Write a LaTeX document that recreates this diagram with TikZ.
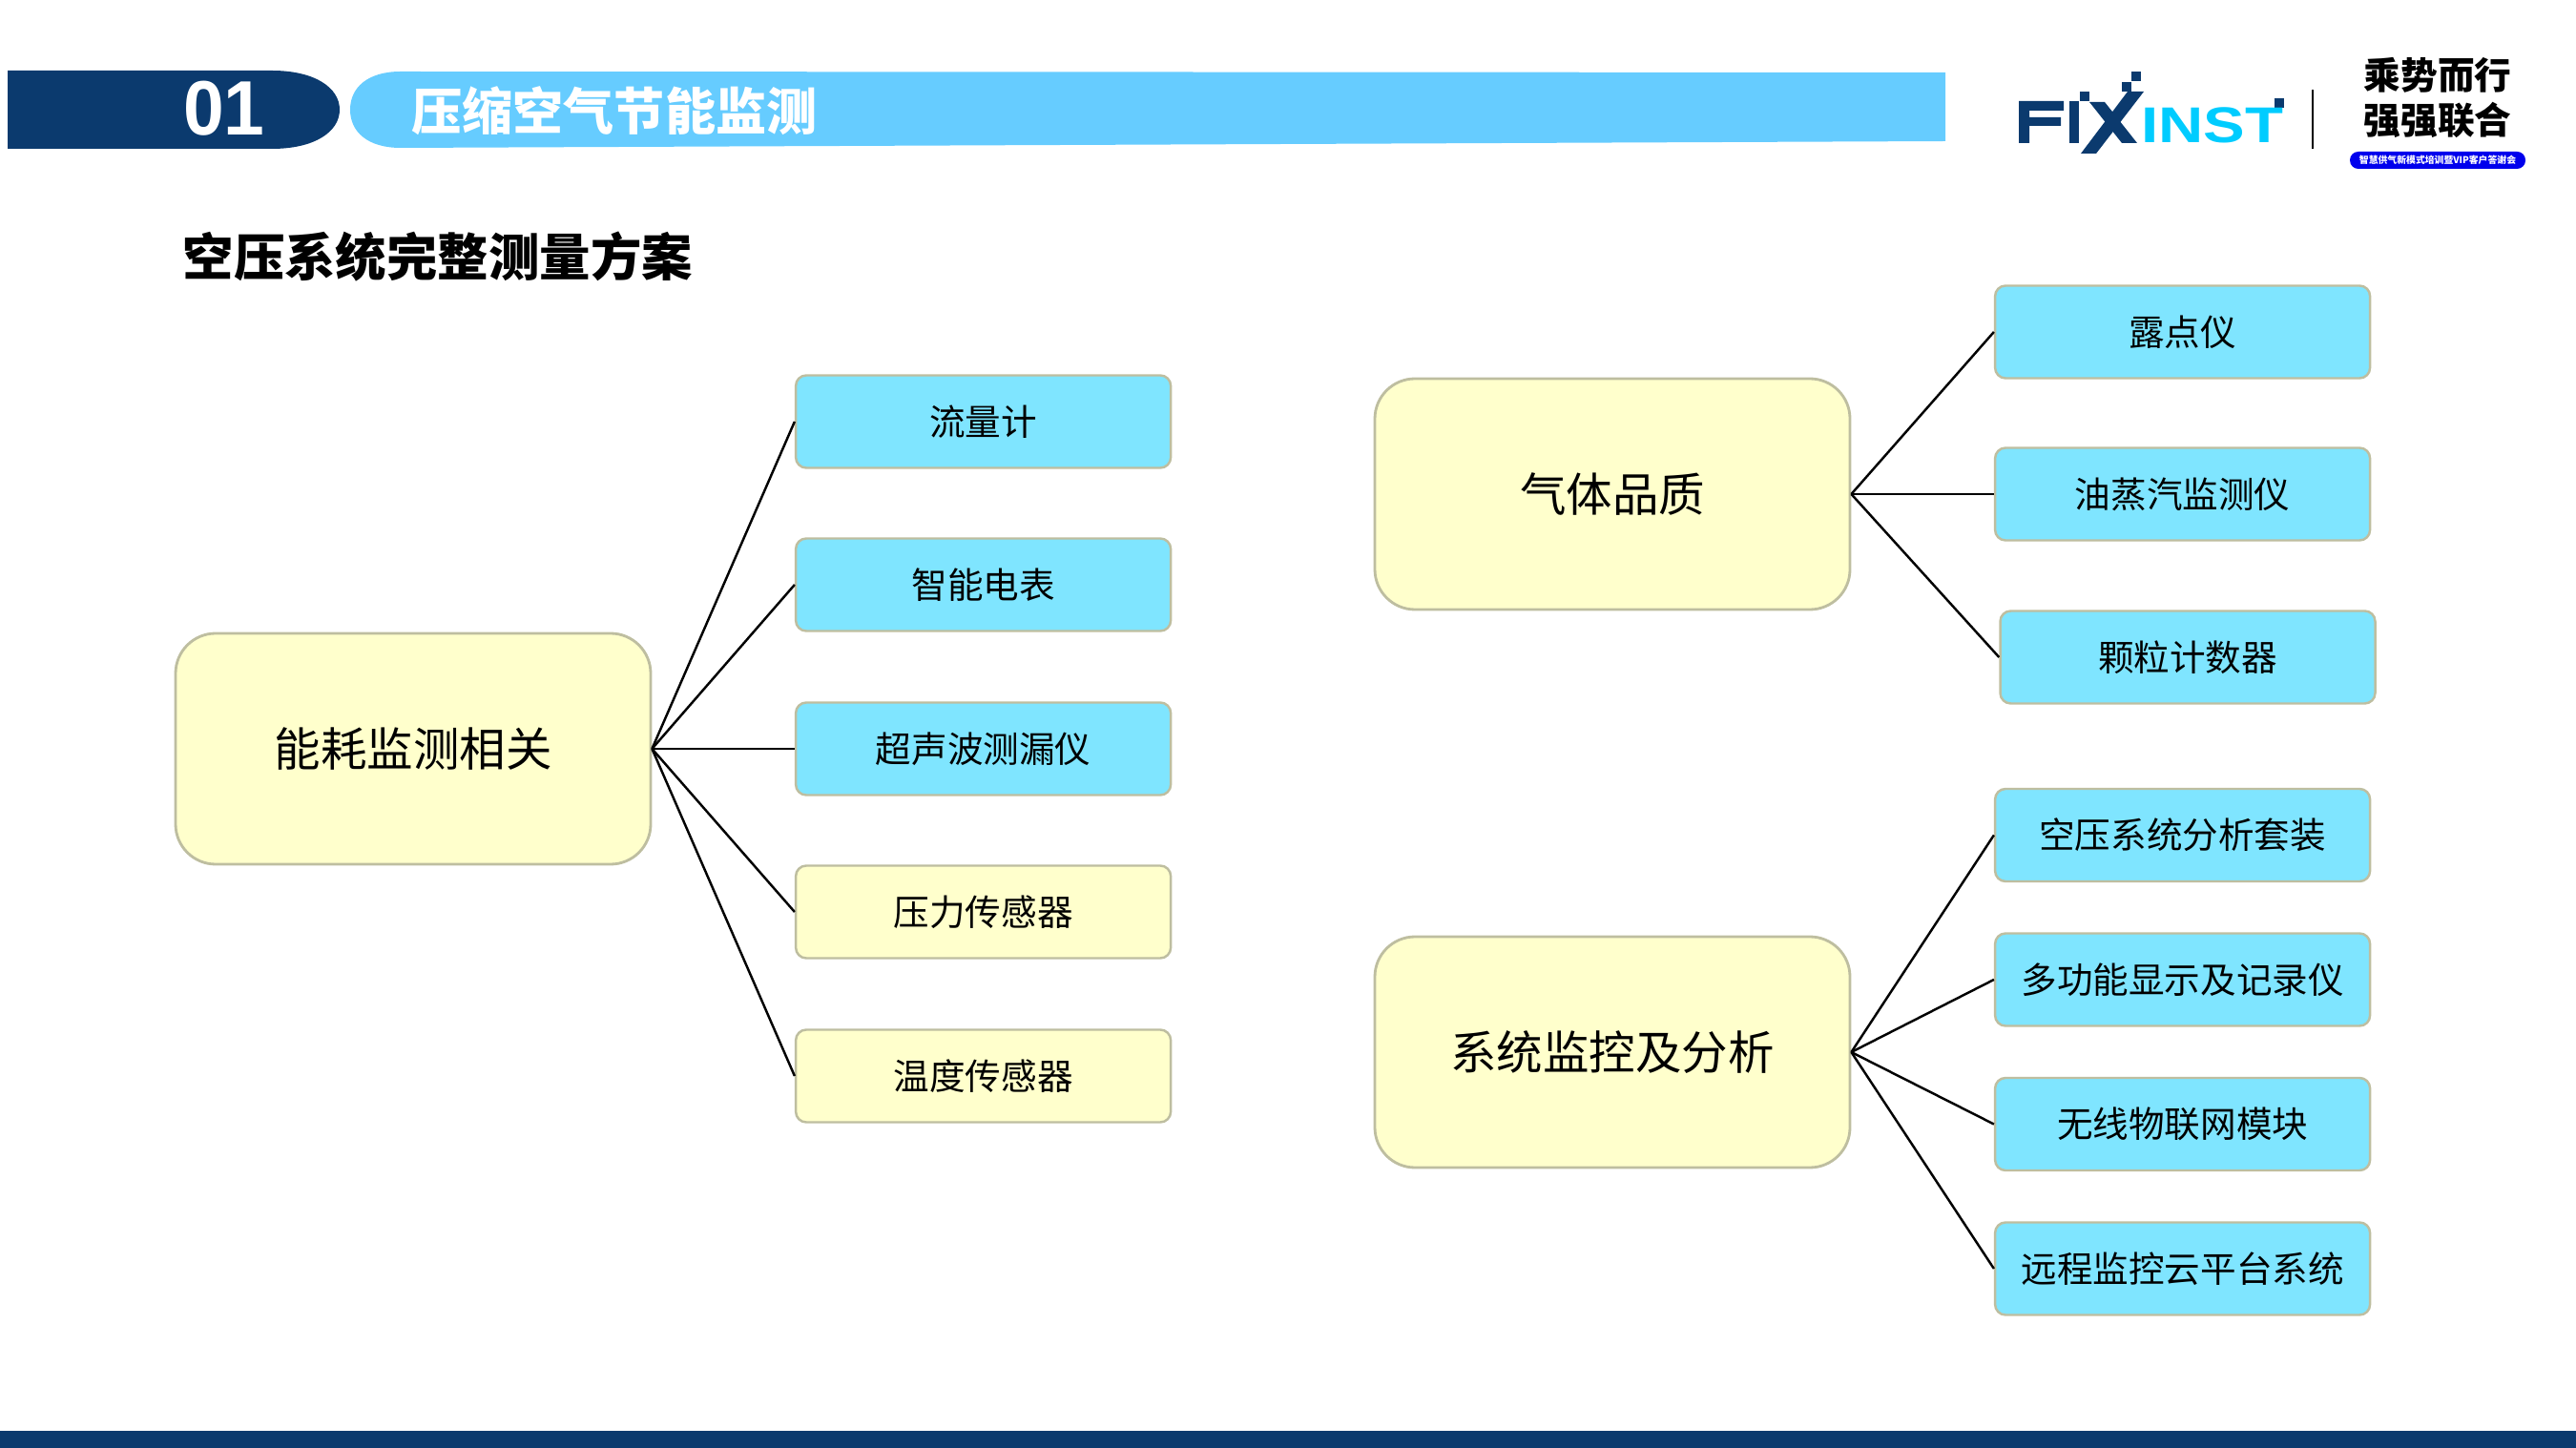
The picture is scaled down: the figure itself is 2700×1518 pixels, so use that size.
\documentclass[tikz,border=0pt]{standalone}
\usepackage{fontspec}
\setmainfont{Liberation Sans}
\newfontfamily\cjk{Noto Sans CJK SC}
\usetikzlibrary{positioning, calc}
\definecolor{navybar}{RGB}{11,58,110}
\definecolor{skybar}{RGB}{102,204,255}
\definecolor{itemblue}{RGB}{127,229,255}
\definecolor{itemyellow}{RGB}{255,255,204}
\definecolor{edgegray}{RGB}{190,190,160}
\definecolor{logocyan}{RGB}{0,204,255}

\begin{document}
\begin{tikzpicture}[x=0.1mm, y=-0.1mm, font=\cjk,
      groupbox/.style={draw=edgegray, line width=0.8pt, rounded corners=4.2mm,
                  fill=itemyellow, minimum width=49.8mm, minimum height=24.2mm,
                  inner sep=0pt, font=\cjk\fontsize{13.8}{16}\selectfont},
      itembox/.style={draw=edgegray, line width=0.7pt, rounded corners=1.1mm,
                  fill=itemblue, minimum width=39.3mm, minimum height=9.7mm,
                  inner sep=0pt, font=\cjk\fontsize{10.7}{13}\selectfont},
      itemlow/.style={itembox, fill=itemyellow},
      link/.style={draw=black, line width=0.7pt},
      logodark/.style={fill=navybar, draw=none}]
    \useasboundingbox (0,0) rectangle (2700,1518);

    % header and footer
    \fill[navybar] (8,74) -- (285,74) .. controls (330,74) and (356,92) .. (356,115)
       .. controls (356,138) and (330,156) .. (285,156) -- (8,156) -- cycle;
    \fill[skybar] (2039,76) -- (2039,148) -- (420,155) .. controls (385,155) and (367,138) .. (367,115)
       .. controls (367,92) and (385,75) .. (420,75) -- cycle;
    \fill[navybar] (0,1500) rectangle (2700,1518);
    \node[text=white, xscale=0.95, font=\fontsize{23}{26}\bfseries\selectfont] (num) at (235,114) {01};
    \node[text=white, anchor=west, inner sep=0pt, font=\cjk\bfseries\fontsize{15.1}{18}\selectfont] (head) at (431,116) {压缩空气节能监测};
    \node[anchor=west, inner sep=0pt, font=\cjk\bfseries\fontsize{15.2}{18}\selectfont] (title) at (191,269) {空压系统完整测量方案};

    % logo
    \fill[logodark] (2116,106) -- (2163,106) -- (2163,116) -- (2127,116) -- (2127,123) -- (2160,123) -- (2160,132) -- (2127,132) -- (2127,150) -- (2116,150) -- cycle;
    \fill[logodark] (2169,106) rectangle (2179,150);
    \fill[logodark] (2180,96) rectangle (2190,106);
    \fill[logodark] (2190,107) -- (2206,107) -- (2240,150) -- (2224,150) -- cycle;
    \fill[logodark] (2230,96) -- (2247,96) -- (2197,161) -- (2181,161) -- cycle;
    \fill[logodark] (2224,86) rectangle (2234,96);
    \fill[logodark] (2234,75) rectangle (2244,85);
    \fill[logodark] (2384,103) rectangle (2394,113);
    \node[text=logocyan, inner sep=0pt, xscale=1.24, font=\fontsize{15}{16}\bfseries\selectfont] (inst) at (2319,131) {INST};
    \draw[black, line width=0.7pt] (2424,94) -- (2424,156);
    \node[inner sep=0pt, font=\cjk\bfseries\fontsize{11}{13}\selectfont] (slogana) at (2555,79) {乘势而行};
    \node[inner sep=0pt, font=\cjk\bfseries\fontsize{11}{13}\selectfont] (sloganb) at (2555,126) {强强联合};
    \node[fill=blue!93!black, text=white, rounded corners=2.5pt, minimum width=18.4mm, minimum height=1.8mm, inner sep=0pt,
          font=\cjk\bfseries\fontsize{2.8}{3}\selectfont] (pill) at (2555,168) {智慧供气新模式培训暨VIP客户答谢会};

    % left group
    \node[groupbox] (energy) at (433,785) {能耗监测相关};
    \node[itembox] (flow)  at (1030.6,442) {流量计};
    \node[itembox] (meter) at (1030.6,613) {智能电表};
    \node[itembox] (leak)  at (1030.6,785) {超声波测漏仪};
    \node[itemlow] (press) at (1030.6,956) {压力传感器};
    \node[itemlow] (temp)  at (1030.6,1128) {温度传感器};
    \foreach \n in {flow, meter, leak, press, temp}
      \draw[link] (energy.east) -- (\n.west);

    % upper right group
    \node[groupbox] (gas) at (1690,518) {气体品质};
    \node[itembox] (dew)   at (2287.6,348) {露点仪};
    \node[itembox] (oil)   at (2287.6,518) {油蒸汽监测仪};
    \node[itembox] (grain) at (2293,689) {颗粒计数器};
    \foreach \n in {dew, oil, grain}
      \draw[link] (gas.east) -- (\n.west);

    % lower right group
    \node[groupbox] (watch) at (1690,1103) {系统监控及分析};
    \node[itembox] (kit)   at (2287.6,875.5) {空压系统分析套装};
    \node[itembox] (disp)  at (2287.6,1027) {多功能显示及记录仪};
    \node[itembox] (iot)   at (2287.6,1178.5) {无线物联网模块};
    \node[itembox] (cloud) at (2287.6,1330) {远程监控云平台系统};
    \foreach \n in {kit, disp, iot, cloud}
      \draw[link] (watch.east) -- (\n.west);
  \end{tikzpicture}
\end{document}
